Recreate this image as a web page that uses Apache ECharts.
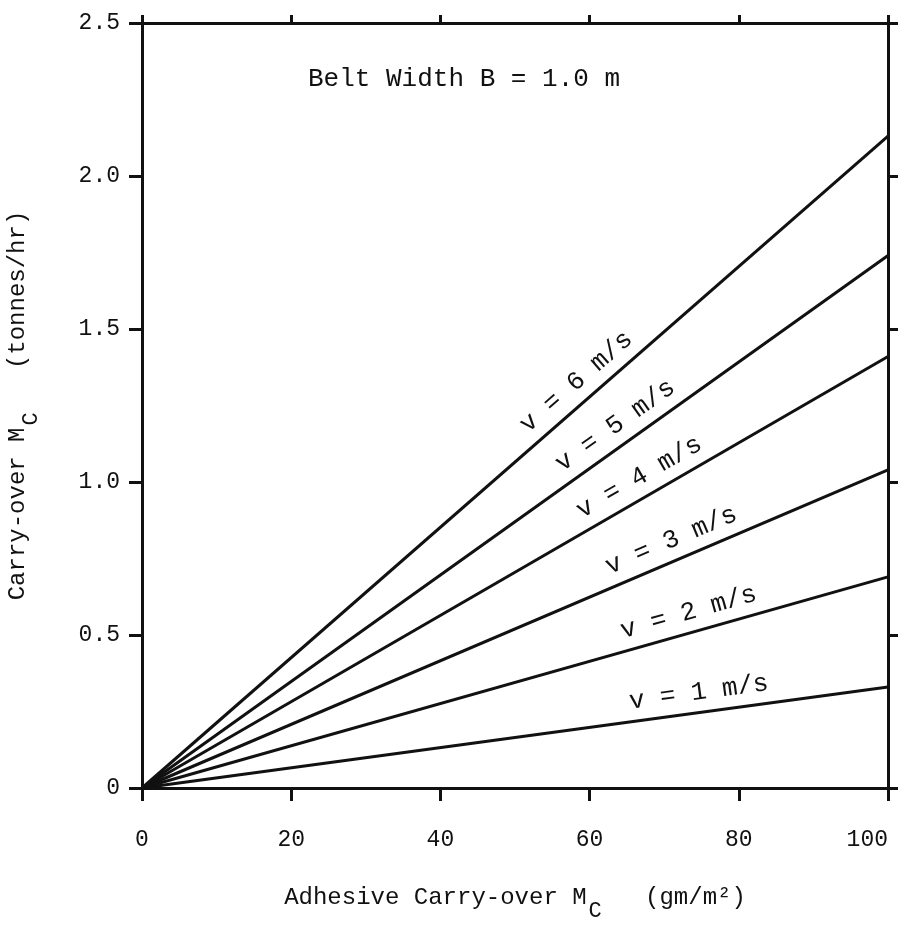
<!DOCTYPE html>
<html>
<head>
<meta charset="utf-8">
<script src="https://cdn.jsdelivr.net/npm/echarts@6/dist/echarts.min.js"></script>
<style>
  html, body { margin: 0; padding: 0; background: #fff; }
  #chart { width: 901px; height: 930px; }
</style>
</head>
<body>
<div id="chart"></div>
<script>
// carry-over vs adhesive carry-over, one straight line per belt speed
const speeds = [1, 2, 3, 4, 5, 6];
const xValues = [0, 100];
const endValues = [0.33, 0.69, 1.04, 1.41, 1.74, 2.13];
const xTickLabels = ['0', '20', '40', '60', '80', '100'];
const yTickLabels = ['0', '0.5', '1.0', '1.5', '2.0', '2.5'];

// where along each line the "v = n m/s" text sits (x in gm/m2)
const labelAt = [75, 74, 72, 68, 65, 60];

const font = '"Liberation Mono", "DejaVu Sans Mono", monospace';
const ink = '#111';

const chart = echarts.init(document.getElementById('chart'), null, { renderer: 'canvas' });

const lineY = (i, x) => endValues[i] * (x - xValues[0]) / (xValues[1] - xValues[0]);

const series = speeds.map((v, i) => {
    const xc = labelAt[i];
    return {
        name: 'v = ' + v + ' m/s',
        type: 'line',
        data: xValues.map((x, k) => [x, k === 0 ? 0 : endValues[i]]),
        symbol: 'none',
        lineStyle: { color: ink, width: 3 },
        silent: true,
        markLine: {
            symbol: 'none',
            silent: true,
            lineStyle: { color: 'transparent', width: 0 },
            label: {
                show: true,
                position: 'insideMiddleTop',
                distance: 7,
                formatter: 'v = ' + v + ' m/s',
                color: ink,
                fontFamily: font,
                fontSize: 26
            },
            data: [[
                { coord: [xc - 5, lineY(i, xc - 5)] },
                { coord: [xc + 5, lineY(i, xc + 5)] }
            ]]
        }
    };
});

const axisLine = { show: true, onZero: false, lineStyle: { color: ink, width: 3 } };

const option = {
    backgroundColor: '#fff',
    animation: false,
    title: {
        text: 'Belt Width B = 1.0 m',
        left: 303,
        top: 61,
        textStyle: { fontFamily: font, fontSize: 26, fontWeight: 'normal', color: ink }
    },
    grid: { left: 142, right: 13, top: 23, bottom: 142, outerBoundsMode: 'none', containLabel: false },
    xAxis: [
        {
            type: 'value',
            position: 'bottom',
            min: 0,
            max: 100,
            interval: 20,
            axisLine: axisLine,
            axisTick: { show: true, inside: false, length: 13, lineStyle: { color: ink, width: 3 } },
            axisLabel: {
                margin: 40,
                color: ink,
                fontFamily: font,
                fontSize: 23,
                alignMaxLabel: 'right',
                formatter: (val) => xTickLabels[Math.round(val / 20)]
            },
            splitLine: { show: false },
            name: '{t|Adhesive Carry-over M}{sub|C}{t|   (gm/m²)}',
            nameLocation: 'middle',
            nameGap: 98,
            nameTextStyle: {
                rich: {
                    t: { fontFamily: font, fontSize: 24, color: ink, verticalAlign: 'top' },
                    sub: { fontFamily: font, fontSize: 22, color: ink, verticalAlign: 'top', padding: [14, 0, 0, 2] }
                }
            }
        },
        {
            type: 'value',
            position: 'top',
            min: 0,
            max: 100,
            interval: 20,
            axisLine: axisLine,
            axisTick: { show: true, inside: false, length: 8, lineStyle: { color: ink, width: 3 } },
            axisLabel: { show: false },
            splitLine: { show: false }
        }
    ],
    yAxis: [
        {
            type: 'value',
            position: 'left',
            min: 0,
            max: 2.5,
            interval: 0.5,
            axisLine: axisLine,
            axisTick: { show: true, inside: false, length: 13, lineStyle: { color: ink, width: 3 } },
            axisLabel: {
                margin: 22,
                color: ink,
                fontFamily: font,
                fontSize: 23,
                formatter: (val) => yTickLabels[Math.round(val / 0.5)]
            },
            splitLine: { show: false },
            name: '{t|Carry-over M}{sub|C}{t|   (tonnes/hr)}',
            nameLocation: 'middle',
            nameRotate: 90,
            nameGap: 100,
            nameTextStyle: {
                rich: {
                    t: { fontFamily: font, fontSize: 24, color: ink, verticalAlign: 'top' },
                    sub: { fontFamily: font, fontSize: 22, color: ink, verticalAlign: 'top', padding: [14, 0, 0, 2] }
                }
            }
        },
        {
            type: 'value',
            position: 'right',
            min: 0,
            max: 2.5,
            interval: 0.5,
            axisLine: axisLine,
            axisTick: { show: true, inside: false, length: 10, lineStyle: { color: ink, width: 3 } },
            axisLabel: { show: false },
            splitLine: { show: false }
        }
    ],
    series: series
};

chart.setOption(option);
</script>
</body>
</html>
